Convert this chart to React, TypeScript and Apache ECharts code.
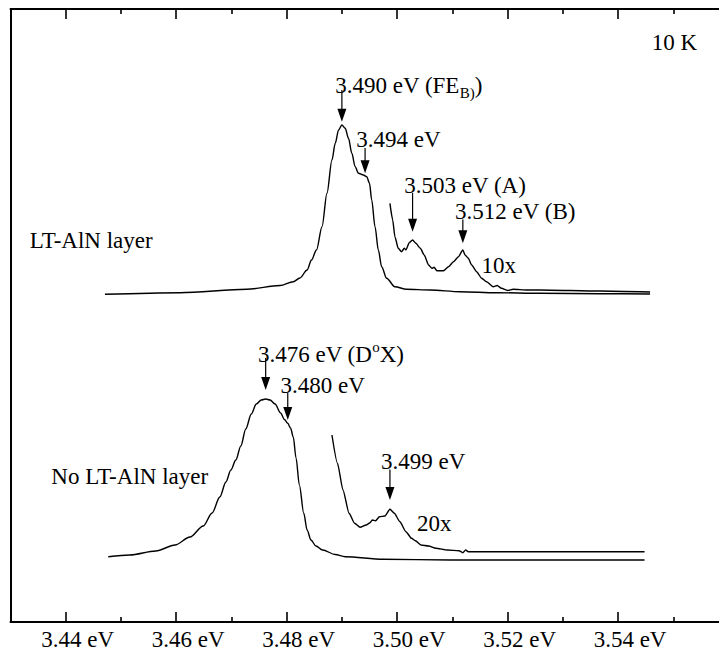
import React, { useEffect, useRef } from "react";
import * as echarts from "echarts";

// ---- axis ticks (photon energy, eV) ----
const majorTicks = [3.44, 3.46, 3.48, 3.5, 3.52, 3.54];
const minorTicks = [3.45, 3.47, 3.49, 3.51, 3.53, 3.55];

// ---- LT-AlN layer sample (PL intensity, arb. units) ----
const ltEnergy = [3.4471, 3.4607, 3.4728, 3.4788, 3.4812, 3.4824, 3.4837, 3.4845, 3.4854, 3.4864, 3.4873, 3.4882, 3.4888, 3.4894, 3.49, 3.4906, 3.4912, 3.4918, 3.4924, 3.493, 3.4939, 3.4945, 3.495, 3.4954, 3.496, 3.4966, 3.4972, 3.4981, 3.4996, 3.5017, 3.506, 3.5114, 3.518, 3.5259, 3.5367, 3.5458];
const ltIntensity = [327.7, 329.3, 332.7, 336.5, 340.3, 344, 352, 362, 372, 395.3, 428.7, 462, 478.7, 492, 497, 493.7, 483.7, 468.7, 455.3, 448.7, 447, 445.3, 438.7, 422, 395.3, 372, 355.3, 343.7, 335.3, 332.7, 332, 330.3, 329.3, 328.7, 328.3, 328];

// ---- LT-AlN layer, 10x magnified ----
const lt10Energy = [3.4987, 3.4992, 3.4996, 3.5002, 3.5008, 3.5013, 3.5016, 3.5022, 3.5028, 3.5034, 3.5042, 3.5049, 3.5057, 3.5063, 3.5067, 3.5072, 3.5084, 3.5093, 3.5102, 3.5111, 3.5119, 3.5123, 3.5129, 3.5135, 3.5144, 3.5153, 3.5162, 3.5174, 3.5181, 3.5189, 3.52, 3.521, 3.5235, 3.5259, 3.5367, 3.5458];
const lt10Intensity = [418.7, 402, 385.3, 373.7, 370.3, 373.7, 372, 379.3, 382, 378.7, 373.7, 367, 357, 353.7, 354.7, 351.3, 351.3, 355.3, 360.3, 365.3, 372, 367, 363.7, 357, 350.3, 343.7, 340.3, 335.3, 336.5, 333.7, 331.5, 332.7, 332, 332, 331, 330];

// ---- No LT-AlN layer sample ----
const noEnergy = [3.4477, 3.4516, 3.4563, 3.4598, 3.4625, 3.4649, 3.4665, 3.4679, 3.469, 3.4699, 3.4708, 3.4717, 3.4726, 3.4736, 3.4745, 3.4754, 3.4762, 3.477, 3.4779, 3.4789, 3.4796, 3.4802, 3.4807, 3.4812, 3.4817, 3.4823, 3.4831, 3.4837, 3.4844, 3.4853, 3.4865, 3.4888, 3.4906, 3.4975, 3.5096, 3.5448];
const noIntensity = [65.3, 67, 71, 77, 85, 96, 109, 125, 140, 152, 162, 176, 193, 208, 218, 222, 223, 222, 218, 209, 202.5, 198.7, 194, 185, 164, 137, 108.7, 92, 82, 76, 72, 67.5, 65.3, 62.7, 62, 62];

// ---- No LT-AlN layer, 20x magnified ----
const no20Energy = [3.4882, 3.4892, 3.4902, 3.4913, 3.4923, 3.4933, 3.4944, 3.4951, 3.4955, 3.4961, 3.4968, 3.4978, 3.4987, 3.4995, 3.5005, 3.5016, 3.5026, 3.5033, 3.5043, 3.5057, 3.507, 3.5091, 3.5112, 3.5119, 3.5124, 3.5129, 3.5448];
const no20Intensity = [187, 158.7, 132, 108.7, 98.7, 94.7, 97, 99.3, 102, 101.3, 105.3, 106, 112.7, 108.7, 100.3, 90.3, 83.7, 81.3, 77, 76, 73.7, 72, 71.3, 69.3, 72, 70.3, 70.3];

// ---- peak annotations: [arrow energy, tip intensity, arrow top intensity, label energy, label baseline intensity] ----
const peakArrows = [
  [3.49, 500.3, 532, 3.4888, 528.7],
  [3.4942, 448.7, 474, 3.4926, 474.7],
  [3.5028, 390.3, 429, 3.5013, 428.7],
  [3.5119, 378.7, 402.5, 3.5105, 402.7],
  [3.4762, 232, 264, 3.4748, 260.3],
  [3.4802, 202, 229, 3.4789, 229.3],
  [3.4987, 122, 152.5, 3.4971, 152.7],
];
const peakLabels = [
  "{n|3.490 eV (FE}{s|B)}{n|)}",
  "{n|3.494 eV}",
  "{n|3.503 eV (A)}",
  "{n|3.512 eV (B)}",
  "{n|3.476 eV (D}{o|o}{n|X)}",
  "{n|3.480 eV}",
  "{n|3.499 eV}",
];

// ---- free text labels: [energy, baseline intensity] ----
const textPositions = [
  [3.5461, 572],
  [3.4335, 374],
  [3.4374, 138],
  [3.5153, 348.7],
  [3.5036, 91],
];
const textLabels = ["10 K", "LT-AlN layer", "No LT-AlN layer", "10x", "20x"];

const FONT = "Liberation Serif";
const FS = 23;

const zip = (a: number[], b: number[]) => a.map((v, i) => [v, b[i]]);

const rich = {
  n: { fontSize: FS, fontFamily: FONT, lineHeight: 30, fill: "#000", color: "#000" },
  s: { fontSize: 15, fontFamily: FONT, lineHeight: 15, verticalAlign: "bottom", fill: "#000", color: "#000" },
  o: { fontSize: 15, fontFamily: FONT, lineHeight: 15, verticalAlign: "top", fill: "#000", color: "#000" },
};

export default function App() {
  const ref = useRef<HTMLDivElement>(null);
  useEffect(() => {
    if (!ref.current) return;
    const chart = echarts.init(ref.current, undefined, { renderer: "svg" });
    const lineSeries = (name: string, e: number[], v: number[], smooth: number) => ({
      name,
      type: "line",
      data: zip(e, v),
      showSymbol: false,
      symbol: "none",
      smooth,
      smoothMonotone: "x",
      lineStyle: { color: "#000", width: 1.4 },
      silent: true,
      z: 3,
    });
    const tickAxis = (pos: string, ticks: number[], len: number, showLine: boolean, showLabel: boolean) => ({
      type: "value",
      position: pos,
      min: 3.43,
      max: 3.56,
      axisLine: { show: showLine, lineStyle: { color: "#000", width: 2 } },
      axisTick: { show: true, inside: true, length: len, customValues: ticks, lineStyle: { color: "#000", width: 1.6 } },
      axisLabel: showLabel
        ? {
            show: true,
            customValues: ticks,
            formatter: (v: number) => v.toFixed(2) + " eV",
            color: "#000",
            fontSize: FS,
            fontFamily: FONT,
            margin: 6,
            padding: [0, 0, 0, 24],
          }
        : { show: false },
      splitLine: { show: false },
    });
    const option = {
      animation: false,
      backgroundColor: "#fff",
      textStyle: { fontFamily: FONT, fontSize: FS },
      grid: { left: 10.5, top: 9, width: 718, height: 613, containLabel: false },
      xAxis: [
        tickAxis("bottom", majorTicks, 10, true, true),
        tickAxis("bottom", minorTicks, 5, false, false),
        tickAxis("top", majorTicks, 10, true, false),
        tickAxis("top", minorTicks, 5, false, false),
      ],
      yAxis: [
        {
          type: "value",
          min: 0,
          max: 613,
          position: "left",
          axisLine: { show: true, lineStyle: { color: "#000", width: 2 } },
          axisTick: { show: false },
          axisLabel: { show: false },
          splitLine: { show: false },
        },
      ],
      series: [
        lineSeries("LT-AlN layer", ltEnergy, ltIntensity, 0.3),
        lineSeries("LT-AlN layer 10x", lt10Energy, lt10Intensity, 0.2),
        lineSeries("No LT-AlN layer", noEnergy, noIntensity, 0.3),
        lineSeries("No LT-AlN layer 20x", no20Energy, no20Intensity, 0.2),
        {
          type: "custom",
          name: "peaks",
          silent: true,
          data: peakArrows,
          z: 5,
          renderItem: (params: any, api: any) => {
            const i = params.dataIndex;
            const tip = api.coord([api.value(0), api.value(1)]);
            const top = api.coord([api.value(0), api.value(2)]);
            const txt = api.coord([api.value(3), api.value(4)]);
            const hh = 13;
            const hw = 9;
            return {
              type: "group",
              children: [
                {
                  type: "line",
                  shape: { x1: tip[0], y1: top[1], x2: tip[0], y2: tip[1] - hh + 1 },
                  style: { stroke: "#000", lineWidth: 1.2 },
                },
                {
                  type: "polygon",
                  shape: { points: [[tip[0] - hw / 2, tip[1] - hh], [tip[0] + hw / 2, tip[1] - hh], [tip[0], tip[1]]] },
                  style: { fill: "#000" },
                },
                {
                  type: "text",
                  x: txt[0],
                  y: txt[1] - 7.6,
                  style: {
                    text: peakLabels[i],
                    rich,
                    fontSize: FS,
                    fontFamily: FONT,
                    fill: "#000",
                    align: "left",
                    verticalAlign: "middle",
                  },
                },
              ],
            };
          },
        },
        {
          type: "custom",
          name: "labels",
          silent: true,
          data: textPositions,
          z: 5,
          renderItem: (params: any, api: any) => {
            const i = params.dataIndex;
            const p = api.coord([api.value(0), api.value(1)]);
            return {
              type: "text",
              x: p[0],
              y: p[1] - 7.6,
              style: {
                text: textLabels[i],
                fontSize: FS,
                fontFamily: FONT,
                fill: "#000",
                align: "left",
                verticalAlign: "middle",
              },
            };
          },
        },
      ],
    };
    chart.setOption(option as any);
    let alive = true;
    const fonts = (document as any).fonts;
    if (fonts && fonts.load) {
      fonts.load(FS + "px " + FONT).then(() => {
        if (alive) chart.setOption(option as any, true);
      }).catch(() => {});
    }
    return () => {
      alive = false;
      chart.dispose();
    };
  }, []);
  return (
    <div
      style={{
        position: "fixed",
        left: 0,
        top: 0,
        width: 719,
        height: 654,
        overflow: "hidden",
        background: "#fff",
        fontFamily: FONT,
      }}
    >
      <div ref={ref} style={{ width: 740, height: 654, fontFamily: FONT }} />
    </div>
  );
}
